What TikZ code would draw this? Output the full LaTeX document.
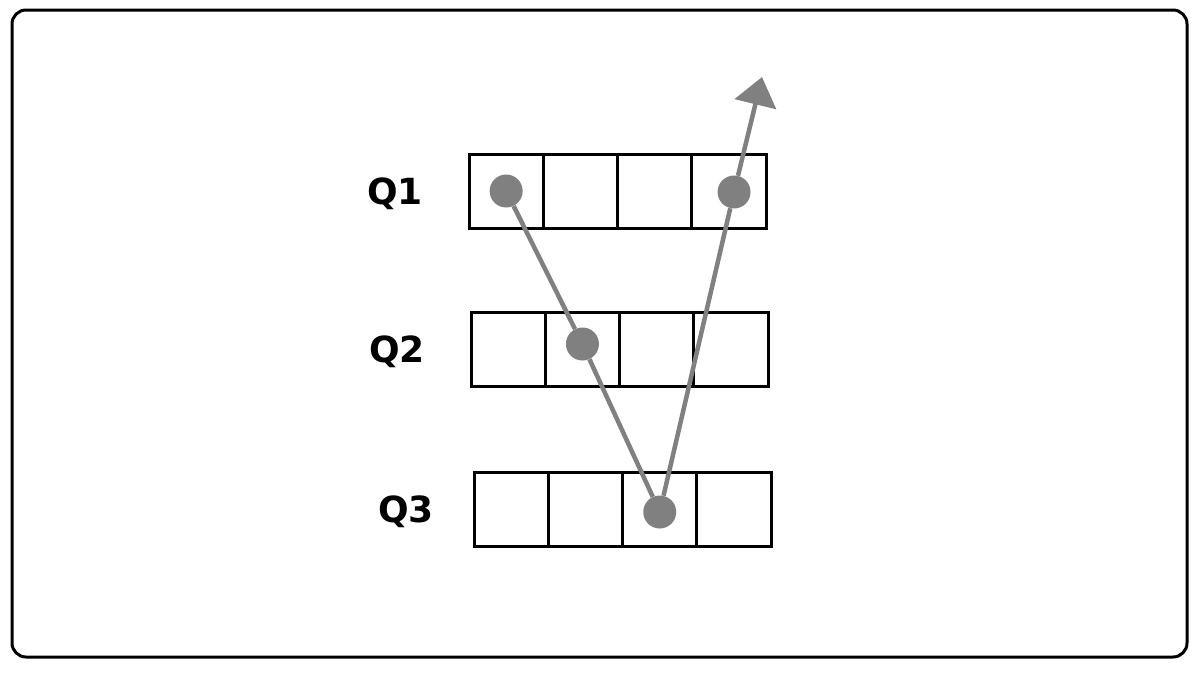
\documentclass[tikz,border=0pt]{standalone}
\usepackage{fontspec}
\setmainfont{DejaVu Sans}
\usetikzlibrary{positioning,arrows.meta}
\definecolor{markgray}{RGB}{128,128,128}
\tikzset{
  cell/.style={draw, line width=3pt, minimum width=74.3pt, minimum height=74pt, inner sep=0pt, outer sep=0pt},
  lbl/.style={font=\fontsize{36}{36}\selectfont\bfseries, inner sep=0pt, text depth=0pt},
  dot/.style={circle, fill=markgray, minimum size=33pt, inner sep=0pt},
  link/.style={draw=markgray, line width=4.5pt}
}
\begin{document}
\begin{tikzpicture}[x=1pt,y=-1pt]
  \useasboundingbox (0,0) rectangle (1200,675);
  \draw[line width=3pt, rounded corners=14pt] (12,10) rectangle (1187,657);

  % the three rows of cells
  \foreach \r/\x/\y/\g in {1/469/191/46, 2/471/349/46, 3/474/509/40} {
    \node[cell, anchor=west] (q\r-1) at (\x,\y) {};
    \foreach \c [remember=\c as \p (initially 1)] in {2,3,4}
      \node[cell, right=0pt of q\r-\p] (q\r-\c) {};
    \node[lbl, left=\g pt of q\r-1] (lab\r) {Q\r};
  }

  % marked cells
  \node[dot] (d1) at (q1-1.center) {};
  \node[dot] (d2) at ([yshift=5pt]q2-2.center) {};
  \node[dot] (d3) at ([yshift=-3pt]q3-3.center) {};
  \node[dot] (d4) at ([xshift=5pt,yshift=-1pt]q1-4.center) {};
  \coordinate (tip) at (762,77);

  \draw[link] (d1) -- (d2);
  \draw[link] (d2) -- (d3);
  \draw[link] (d3) -- (d4);
  \draw[link, -{Triangle[length=28pt,width=42pt]}] (d4) -- (tip);
\end{tikzpicture}
\end{document}
